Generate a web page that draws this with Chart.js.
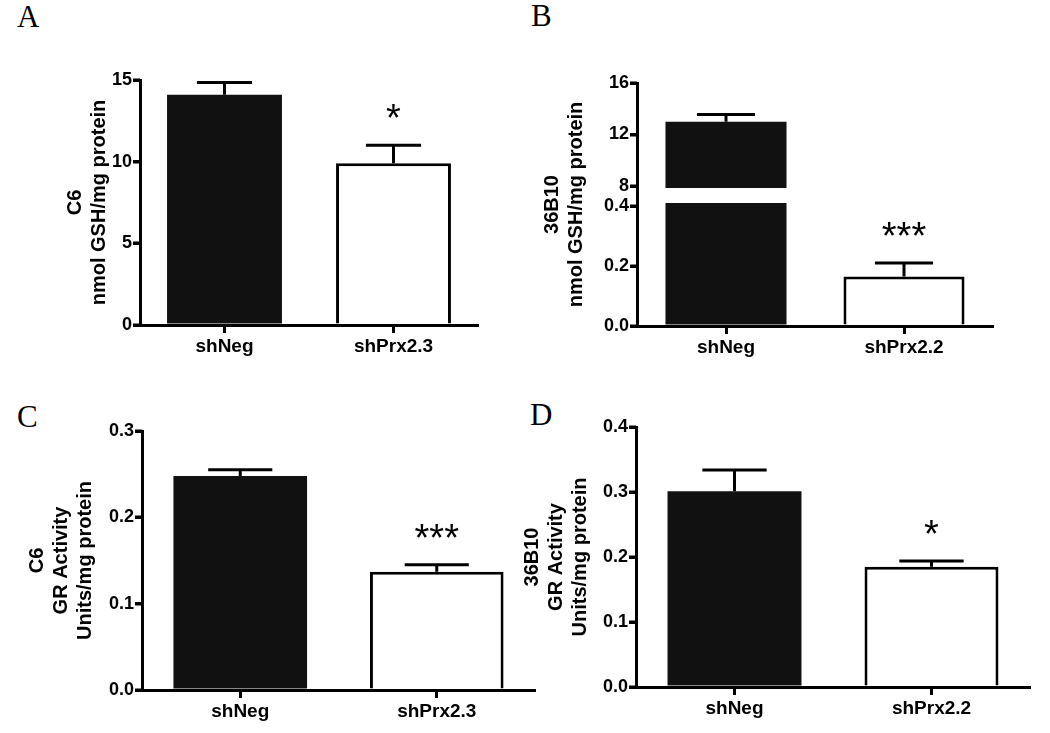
<!DOCTYPE html>
<html><head><meta charset="utf-8">
<script src="https://cdn.jsdelivr.net/npm/chart.js@4.4.1/dist/chart.umd.min.js"></script>
<style>
html,body{margin:0;padding:0;background:#fff;}
body{width:1050px;height:733px;position:relative;overflow:hidden;}
canvas{position:absolute;}
.lt{position:absolute;font-family:'Liberation Serif','Times New Roman',serif;font-size:31px;line-height:1;color:#000;}
</style></head><body>
<div class="lt" style="left:17px;top:1px">A</div>
<div class="lt" style="left:531px;top:0px">B</div>
<div class="lt" style="left:17px;top:401px">C</div>
<div class="lt" style="left:530px;top:399px">D</div>
<canvas id="cA" width="520" height="366" style="left:0;top:0"></canvas>
<canvas id="cB" width="530" height="366" style="left:520px;top:0"></canvas>
<canvas id="cC" width="545" height="367" style="left:0;top:366px"></canvas>
<canvas id="cD" width="535" height="367" style="left:515px;top:366px"></canvas>
<script>
// ---- Panel A: C6 GSH ----
const categoriesA = ['shNeg', 'shPrx2.3'];
const valuesA = [14.1, 9.9];
const errorsA = [0.75, 1.1];
const starsA = ['', '*'];
const tickValuesA = [0, 5, 10, 15];
const tickLabelsA = ['0', '5', '10', '15'];
const titleA = ['C6', 'nmol GSH/mg protein'];

// ---- Panel B: 36B10 GSH (broken axis) ----
const categoriesB = ['shNeg', 'shPrx2.2'];
const valuesB = [13.0, 0.165];
const errorsB = [0.55, 0.045];
const starsB = ['', '***'];
const tickValuesB = [0, 0.2, 0.4, 8, 12, 16];
const tickLabelsB = ['0.0', '0.2', '0.4', '8', '12', '16'];
const titleB = ['36B10', 'nmol GSH/mg protein'];
const breakLowMax = 0.4;
const breakHighMin = 8;
const breakHighMax = 16;

// ---- Panel C: C6 GR activity ----
const categoriesC = ['shNeg', 'shPrx2.3'];
const valuesC = [0.248, 0.137];
const errorsC = [0.007, 0.008];
const starsC = ['', '***'];
const tickValuesC = [0, 0.1, 0.2, 0.3];
const tickLabelsC = ['0.0', '0.1', '0.2', '0.3'];
const titleC = ['C6', 'GR Activity', 'Units/mg protein'];

// ---- Panel D: 36B10 GR activity ----
const categoriesD = ['shNeg', 'shPrx2.2'];
const valuesD = [0.301, 0.185];
const errorsD = [0.033, 0.009];
const starsD = ['', '*'];
const tickValuesD = [0, 0.1, 0.2, 0.3, 0.4];
const tickLabelsD = ['0.0', '0.1', '0.2', '0.3', '0.4'];
const titleD = ['36B10', 'GR Activity', 'Units/mg protein'];

const FONT = "'Liberation Sans', Arial, Helvetica, sans-serif";
const STAR_FONT = "38px 'Liberation Sans', Arial, sans-serif";
const Y_TICK_LEN = 7;

// broken-axis layout fractions (style)
const LOW_FRAC = 120 / 243;
const HIGH_FRAC = 140 / 243;
function brokenDecimal(v) {
  if (v <= breakLowMax) return v / breakLowMax * LOW_FRAC;
  if (v >= breakHighMin) return HIGH_FRAC + (v - breakHighMin) / (breakHighMax - breakHighMin) * (1 - HIGH_FRAC);
  return LOW_FRAC + (v - breakLowMax) / (breakHighMin - breakLowMax) * (HIGH_FRAC - LOW_FRAC);
}
function brokenValue(d) {
  if (d <= LOW_FRAC) return d / LOW_FRAC * breakLowMax;
  if (d >= HIGH_FRAC) return breakHighMin + (d - HIGH_FRAC) / (1 - HIGH_FRAC) * (breakHighMax - breakHighMin);
  return breakLowMax + (d - LOW_FRAC) / (HIGH_FRAC - LOW_FRAC) * (breakHighMin - breakLowMax);
}
class BrokenScale extends Chart.LinearScale {
  getPixelForValue(value) {
    if (value === null || value === undefined) return NaN;
    return this.getPixelForDecimal(brokenDecimal(value));
  }
  getValueForPixel(pixel) {
    return brokenValue(this.getDecimalForPixel(pixel));
  }
}
BrokenScale.id = 'broken';
BrokenScale.defaults = Chart.LinearScale.defaults;
Chart.register(BrokenScale);

const breakBandPlugin = {
  id: 'breakBand',
  afterDatasetsDraw(chart) {
    if (!chart.options.plugins.breakBand || !chart.options.plugins.breakBand.on) return;
    const ys = chart.scales.y, a = chart.chartArea, ctx = chart.ctx;
    const yHi = ys.getPixelForValue(breakHighMin) + 2;
    const yLo = ys.getPixelForValue(breakLowMax) - 3;
    ctx.save();
    ctx.fillStyle = '#fff';
    ctx.fillRect(a.left + 2, yHi, a.right - a.left, yLo - yHi);
    ctx.restore();
  }
};

// y-axis tick marks, taken from the scale's own ticks
const yTickPlugin = {
  id: 'yTicks',
  afterDraw(chart) {
    const ys = chart.scales.y, ctx = chart.ctx;
    const x0 = chart.chartArea.left;
    ctx.save();
    ctx.fillStyle = '#000';
    ys.ticks.forEach(t => {
      const y = Math.round(ys.getPixelForValue(t.value));
      ctx.fillRect(x0 - Y_TICK_LEN, y - 1.5, Y_TICK_LEN, 3);
    });
    ctx.restore();
  }
};

const errorBarPlugin = {
  id: 'errbars',
  afterDatasetsDraw(chart) {
    const ctx = chart.ctx, ys = chart.scales.y;
    const ds = chart.data.datasets[0];
    const meta = chart.getDatasetMeta(0);
    ctx.save();
    ctx.strokeStyle = '#000';
    ctx.lineWidth = 3;
    meta.data.forEach((bar, i) => {
      const v = ds.data[i], e = ds.errors[i];
      const yTop = ys.getPixelForValue(v + e);
      const x = bar.x, half = bar.width * 0.48 / 2;
      ctx.beginPath();
      ctx.moveTo(x, bar.y);
      ctx.lineTo(x, yTop);
      ctx.moveTo(x - half, yTop);
      ctx.lineTo(x + half, yTop);
      ctx.stroke();
      const s = ds.stars[i];
      if (s) {
        ctx.font = STAR_FONT;
        ctx.fillStyle = '#000';
        ctx.textAlign = 'center';
        ctx.textBaseline = 'alphabetic';
        const m = ctx.measureText(s);
        const cy = yTop - 34;
        const base = cy + (m.actualBoundingBoxAscent - m.actualBoundingBoxDescent) / 2;
        ctx.fillText(s, x, base);
      }
    });
    ctx.restore();
  }
};

function makeChart(id, cats, vals, errs, stars, tickVals, tickLabels, title, g, yType) {
  const yOpts = {
    type: yType || 'linear',
    min: tickVals[0],
    max: tickVals[tickVals.length - 1],
    afterBuildTicks: s => { s.ticks = tickVals.map(v => ({ value: v })); },
    ticks: {
      color: '#000', padding: 1,
      font: { family: FONT, size: 18, weight: 'bold' },
      callback: (v, i) => tickLabels[i]
    },
    grid: { display: true, drawOnChartArea: false, drawTicks: true, tickLength: 7, tickWidth: 3, tickColor: '#000', lineWidth: 3, color: '#000' },
    border: { display: true, width: 3, color: '#000', dash: g.dash || [] },
    title: {
      display: true, text: title, color: '#000',
      font: { family: FONT, size: 20, weight: 'bold', lineHeight: 1.2 },
      padding: { top: g.tp, bottom: 0 }
    },
    afterFit: s => { s.width = g.yw; }
  };
  return new Chart(document.getElementById(id), {
    type: 'bar',
    data: {
      labels: cats,
      datasets: [{
        data: vals, errors: errs, stars: stars,
        backgroundColor: ['#111111', '#ffffff'],
        borderColor: '#000000', borderWidth: [0, 3], borderSkipped: 'bottom',
        barPercentage: 0.68, categoryPercentage: 1
      }]
    },
    options: {
      responsive: false, animation: false, devicePixelRatio: 1,
      layout: { padding: { top: g.top, right: g.right, bottom: 0, left: 0 } },
      plugins: { legend: { display: false }, tooltip: { enabled: false }, breakBand: { on: !!g.band } },
      scales: {
        x: {
          type: 'category', offset: true,
          grid: { display: true, offset: false, drawOnChartArea: false, drawTicks: true, tickLength: 8, tickWidth: 3, tickColor: '#000' },
          border: { display: true, width: 3, color: '#000' },
          ticks: { color: '#000', padding: 2, maxRotation: 0, font: { family: FONT, size: 19, weight: 'bold' } },
          afterFit: s => { s.height = g.xh; }
        },
        y: yOpts
      }
    },
    plugins: [breakBandPlugin, errorBarPlugin, yTickPlugin]
  });
}

makeChart('cA', categoriesA, valuesA, errorsA, starsA, tickValuesA, tickLabelsA, titleA,
  { yw: 140, top: 80, right: 42, xh: 41, tp: 63 });
makeChart('cB', categoriesB, valuesB, errorsB, starsB, tickValuesB, tickLabelsB, titleB,
  { yw: 117, top: 83, right: 57, xh: 40, tp: 20, dash: [106, 17, 1000], band: true }, 'broken');
makeChart('cC', categoriesC, valuesC, errorsC, starsC, tickValuesC, tickLabelsC, titleC,
  { yw: 142, top: 65, right: 10, xh: 43, tp: 25 });
makeChart('cD', categoriesD, valuesD, errorsD, starsD, tickValuesD, tickLabelsD, titleD,
  { yw: 121, top: 61, right: 20, xh: 46, tp: 5 });
</script>
</body></html>
